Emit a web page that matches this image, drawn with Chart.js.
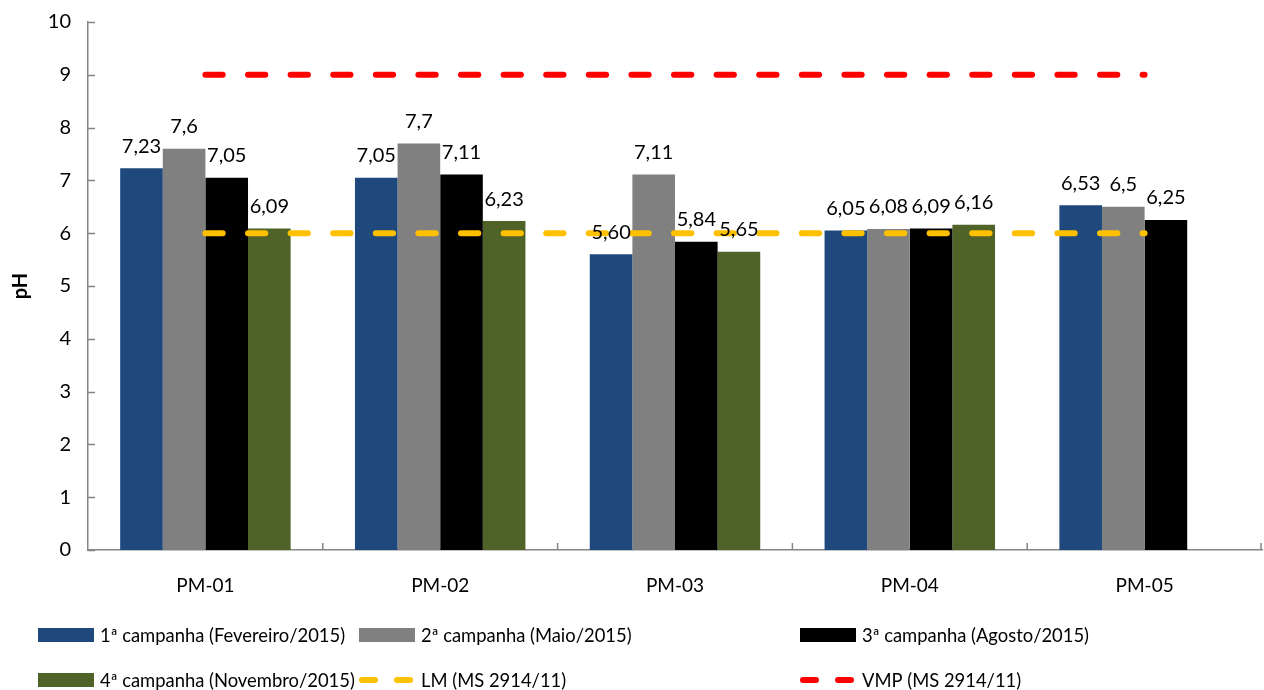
<!DOCTYPE html>
<html>
<head>
<meta charset="utf-8">
<script src="https://cdn.jsdelivr.net/npm/chart.js@4.4.1/dist/chart.umd.min.js"></script>
<style>
  html, body { margin: 0; padding: 0; background: #ffffff; }
  #wrap { width: 1264px; height: 690px; }
</style>
</head>
<body>
<div id="wrap"><canvas id="c" width="1264" height="690"></canvas></div>
<script>
// pH por ponto de monitoramento e campanha
const categories = ['PM-01', 'PM-02', 'PM-03', 'PM-04', 'PM-05'];
const campanha1 = [7.23, 7.05, 5.60, 6.05, 6.53];
const campanha2 = [7.6, 7.7, 7.11, 6.08, 6.5];
const campanha3 = [7.05, 7.11, 5.84, 6.09, 6.25];
const campanha4 = [6.09, 6.23, 5.65, 6.16, null];
// casas decimais exibidas nos rótulos de cada barra
const casas1 = [2, 2, 2, 2, 2];
const casas2 = [1, 1, 2, 2, 1];
const casas3 = [2, 2, 2, 2, 2];
const casas4 = [2, 2, 2, 2, null];
// limites de referência (MS 2914/11)
const limiteLM = [6, 6, 6, 6, 6];
const limiteVMP = [9, 9, 9, 9, 9];
const yTicks = [0, 1, 2, 3, 4, 5, 6, 7, 8, 9, 10];

const FONT = 'Lato, "Open Sans", sans-serif';
const AXIS_GRAY = '#868686';

function barSet(label, data, casas, color) {
  return {
    type: 'bar', label, data, casas,
    backgroundColor: color, borderWidth: 0,
    categoryPercentage: 0.726, barPercentage: 1.0, order: 1
  };
}
function limitSet(label, data, color) {
  return {
    type: 'line', label, data,
    borderColor: color, backgroundColor: color,
    borderWidth: 6, borderDash: [17.3, 25.3], borderCapStyle: 'round',
    pointRadius: 0, fill: false, order: 0
  };
}

const datasets = [
  barSet('1ª campanha (Fevereiro/2015)', campanha1, casas1, '#1F497D'),
  barSet('2ª campanha (Maio/2015)', campanha2, casas2, '#808080'),
  barSet('3ª campanha (Agosto/2015)', campanha3, casas3, '#000000'),
  barSet('4ª campanha (Novembro/2015)', campanha4, casas4, '#4F6228'),
  limitSet('LM (MS 2914/11)', limiteLM, '#FFC000'),
  limitSet('VMP (MS 2914/11)', limiteVMP, '#FF0000')
];

// value labels above each bar, decimal comma
const valueLabels = {
  id: 'valueLabels',
  afterDatasetsDraw(chart) {
    const ctx = chart.ctx;
    ctx.save();
    ctx.font = '20px ' + FONT;
    ctx.fillStyle = '#000';
    ctx.textAlign = 'center';
    ctx.textBaseline = 'middle';
    chart.data.datasets.forEach((ds, di) => {
      if (ds.type !== 'bar') return;
      const meta = chart.getDatasetMeta(di);
      meta.data.forEach((el, i) => {
        const v = ds.data[i];
        if (v === null || v === undefined) return;
        const txt = v.toFixed(ds.casas[i]).replace('.', ',');
        ctx.fillText(txt, el.x, el.y - 22);
      });
    });
    ctx.restore();
  }
};

// short tick marks pointing into the plot area
const innerTicks = {
  id: 'innerTicks',
  afterDatasetsDraw(chart) {
    const ctx = chart.ctx, a = chart.chartArea;
    const xs = chart.scales.x, ys = chart.scales.y;
    ctx.save();
    ctx.strokeStyle = AXIS_GRAY;
    ctx.lineWidth = 1.5;
    ctx.beginPath();
    yTicks.forEach(t => {
      const y = Math.round(ys.getPixelForValue(t)) + 0.5;
      ctx.moveTo(a.left, y);
      ctx.lineTo(a.left + 7, y);
    });
    const n = categories.length;
    for (let i = 1; i <= n; i++) {
      const x = i < n ? (xs.getPixelForValue(i - 1) + xs.getPixelForValue(i)) / 2 : a.right - 1;
      ctx.moveTo(x, a.bottom);
      ctx.lineTo(x, a.bottom - 7);
    }
    ctx.stroke();
    ctx.restore();
  }
};

// legend laid out in three aligned columns and two rows
const gridLegend = {
  id: 'gridLegend',
  afterDraw(chart, args, opts) {
    const ctx = chart.ctx;
    ctx.save();
    ctx.font = opts.fontSize + 'px ' + FONT;
    ctx.textBaseline = 'middle';
    ctx.textAlign = 'left';
    chart.data.datasets.forEach((ds, i) => {
      const col = i % 3, row = Math.floor(i / 3);
      const x = opts.columns[col], y = opts.rows[row];
      if (ds.type === 'bar') {
        ctx.fillStyle = ds.backgroundColor;
        ctx.fillRect(x, y - 7, 56, 14);
      } else {
        ctx.strokeStyle = ds.borderColor;
        ctx.lineWidth = 6;
        ctx.lineCap = 'round';
        ctx.beginPath();
        ctx.moveTo(x + 3, y); ctx.lineTo(x + 16, y);
        ctx.moveTo(x + 38, y); ctx.lineTo(x + 51, y);
        ctx.stroke();
      }
      ctx.fillStyle = '#000';
      ctx.fillText(ds.label, x + opts.textOffset, y + 1);
    });
    ctx.restore();
  }
};

new Chart(document.getElementById('c'), {
  data: { labels: categories, datasets },
  options: {
    responsive: false,
    animation: false,
    layout: { padding: { top: 22, right: 2, left: 0, bottom: 0 } },
    plugins: {
      legend: { display: false },
      tooltip: { enabled: false },
      gridLegend: { columns: [38, 359, 800], rows: [635, 680], textOffset: 62, fontSize: 18.4 }
    },
    scales: {
      x: {
        offset: true,
        grid: { display: false, drawTicks: false },
        border: { color: AXIS_GRAY, width: 1.5 },
        ticks: { color: '#000', font: { family: FONT, size: 19 }, padding: 24 },
        afterFit(s) { s.height = 140; s.paddingLeft = 0; s.paddingRight = 0; }
      },
      y: {
        min: 0, max: 10,
        grid: { display: false, drawTicks: false },
        border: { color: AXIS_GRAY, width: 1.5 },
        ticks: { stepSize: 1, color: '#000', font: { family: FONT, size: 20 }, padding: 17 },
        title: { display: true, text: 'pH', color: '#000', font: { family: FONT, size: 20, weight: 'bold' }, padding: { top: 9, bottom: 0 } },
        afterFit(s) { s.width = 88; s.paddingTop = 0; s.paddingBottom = 0; }
      }
    }
  },
  plugins: [valueLabels, innerTicks, gridLegend]
});
</script>
</body>
</html>
